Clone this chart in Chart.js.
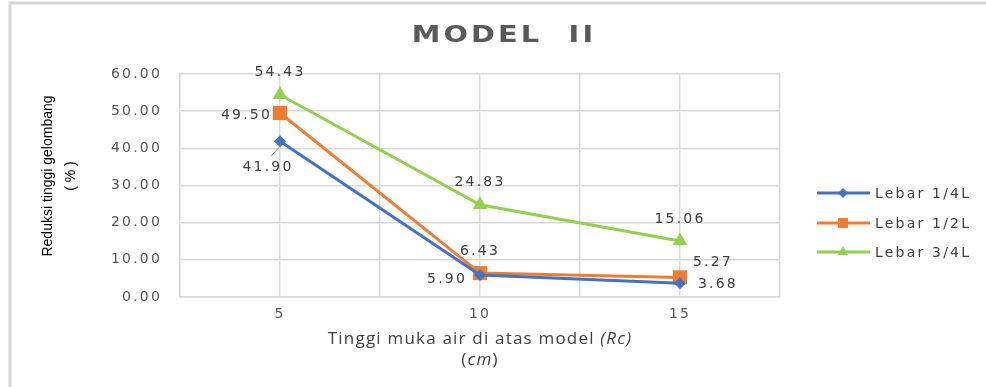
<!DOCTYPE html>
<html>
<head>
<meta charset="utf-8">
<script src="https://cdn.jsdelivr.net/npm/chart.js@4.4.1/dist/chart.umd.min.js"></script>
<style>
  html, body { margin: 0; padding: 0; background: #fff; }
  #wrap { width: 986px; height: 387px; position: relative; }
</style>
</head>
<body>
<div id="wrap"><canvas id="c" width="986" height="387"></canvas></div>
<script>
// Wave height reduction (%) against water level above the model (Rc, cm)
const rcValues = [5, 10, 15];
const lebarQuarter = [41.90, 5.90, 3.68];
const lebarHalf = [49.50, 6.43, 5.27];
const lebarThreeQuarter = [54.43, 24.83, 15.06];
const seriesNames = ['Lebar 1/4L', 'Lebar 1/2L', 'Lebar 3/4L'];
const xTickLabels = ['5', '10', '15'];
const yRange = { min: 0, max: 60, step: 10 };
const chartTitle = 'MODEL  II';

const colors = ['#4472C4', '#ED7D31', '#92D050'];
const markerStyles = ['rectRot', 'rect', 'triangle'];
const markerRadius = [6, 10, 8.5];
const legendMarkerRadius = [5, 7, 6];
// where each value label sits relative to its point
const labelSides = [
  ['below', 'farLeft', 'right'],
  ['left', 'above', 'aboveRight'],
  ['above', 'above', 'above']
];

const FONT = '"DejaVu Sans", Verdana, sans-serif';

function toPoints(vals) {
  return rcValues.map((x, i) => ({ x: x, y: vals[i] }));
}
const seriesValues = [lebarQuarter, lebarHalf, lebarThreeQuarter];

const datasets = seriesValues.map((vals, i) => ({
  label: seriesNames[i],
  data: toPoints(vals),
  borderColor: colors[i],
  backgroundColor: colors[i],
  borderWidth: 3,
  tension: 0,
  pointStyle: markerStyles[i],
  pointRadius: markerRadius[i],
  pointBorderWidth: 0,
  pointBackgroundColor: colors[i]
}));

const framePlugin = {
  id: 'frame',
  beforeDraw(chart) {
    const ctx = chart.ctx;
    ctx.save();
    ctx.fillStyle = '#ffffff';
    ctx.fillRect(0, 0, chart.width, chart.height);
    ctx.strokeStyle = '#d4d4d4';
    ctx.lineWidth = 3;
    ctx.beginPath();
    ctx.moveTo(10, chart.height);
    ctx.lineTo(10, 3);
    ctx.lineTo(chart.width, 3);
    ctx.stroke();
    ctx.restore();
    ctx.letterSpacing = '2.2px';
  },
  afterDraw(chart) {
    chart.ctx.letterSpacing = '0px';
  }
};

const valueLabelPlugin = {
  id: 'valueLabels',
  afterDatasetsDraw(chart) {
    const ctx = chart.ctx;
    ctx.save();
    ctx.font = '14px ' + FONT;
    ctx.letterSpacing = '2.2px';
    ctx.fillStyle = '#404040';
    ctx.textBaseline = 'middle';
    chart.data.datasets.forEach((ds, di) => {
      const meta = chart.getDatasetMeta(di);
      meta.data.forEach((pt, pi) => {
        const txt = ds.data[pi].y.toFixed(2);
        const side = labelSides[di][pi];
        let x = pt.x, y = pt.y;
        if (side === 'above') { ctx.textAlign = 'center'; y -= 22; }
        else if (side === 'below') {
          ctx.textAlign = 'center'; x -= 12; y += 26;
          ctx.save();
          ctx.strokeStyle = '#8c8c8c';
          ctx.lineWidth = 1;
          ctx.beginPath();
          ctx.moveTo(pt.x - 9, pt.y + 15);
          ctx.lineTo(pt.x - 1, pt.y + 6);
          ctx.stroke();
          ctx.restore();
        }
        else if (side === 'left') { ctx.textAlign = 'right'; x -= 8; y += 2; }
        else if (side === 'farLeft') { ctx.textAlign = 'right'; x -= 13; y += 4; }
        else if (side === 'right') { ctx.textAlign = 'left'; x += 18; y += 1; }
        else if (side === 'aboveRight') { ctx.textAlign = 'left'; x += 13; y -= 15; }
        ctx.fillText(txt, x, y);
      });
    });
    ctx.restore();
  }
};

const decorPlugin = {
  id: 'decor',
  afterDraw(chart) {
    const ctx = chart.ctx;
    const area = chart.chartArea;
    ctx.save();

    // chart title, drawn slightly widened
    ctx.fillStyle = '#595959';
    ctx.font = 'bold 23px ' + FONT;
    ctx.letterSpacing = '2.5px';
    ctx.textAlign = 'center';
    ctx.textBaseline = 'middle';
    ctx.save();
    ctx.translate(504, 36);
    ctx.scale(1.25, 1);
    ctx.fillText(chartTitle, 0, 0);
    ctx.restore();

    // vertical axis title
    ctx.fillStyle = '#000000';
    ctx.letterSpacing = '0px';
    ctx.font = '14px "Liberation Sans Narrow", "Liberation Sans", sans-serif';
    ctx.save();
    ctx.translate(48, 176);
    ctx.rotate(-Math.PI / 2);
    ctx.fillText('Reduksi tinggi gelombang', 0, 0);
    ctx.restore();
    ctx.save();
    ctx.translate(71, 176);
    ctx.rotate(-Math.PI / 2);
    ctx.fillText('( % )', 0, 0);
    ctx.restore();

    // horizontal axis title, with italic parts
    const cx = (area.left + area.right) / 2;
    ctx.fillStyle = '#404040';
    ctx.letterSpacing = '1.2px';
    const parts1 = [['Tinggi muka air di atas model ', ''], ['(Rc)', 'italic ']];
    const parts2 = [['(', ''], ['cm', 'italic '], [')', '']];
    function drawParts(parts, y) {
      let total = 0;
      parts.forEach(p => { ctx.font = p[1] + '17px "Open Sans", sans-serif'; total += ctx.measureText(p[0]).width; });
      let x = cx - total / 2;
      ctx.textAlign = 'left';
      parts.forEach(p => {
        ctx.font = p[1] + '17px "Open Sans", sans-serif';
        ctx.fillText(p[0], x, y);
        x += ctx.measureText(p[0]).width;
      });
    }
    drawParts(parts1, 339);
    drawParts(parts2, 360);

    // legend
    ctx.font = '14px ' + FONT;
    ctx.letterSpacing = '2.2px';
    ctx.textAlign = 'left';
    const rows = [193, 223, 252];
    chart.data.datasets.forEach((ds, i) => {
      const y = rows[i];
      ctx.strokeStyle = ds.borderColor;
      ctx.lineWidth = 3;
      ctx.beginPath();
      ctx.moveTo(817, y);
      ctx.lineTo(870, y);
      ctx.stroke();
      ctx.fillStyle = ds.borderColor;
      Chart.helpers.drawPoint(ctx, { pointStyle: ds.pointStyle, radius: legendMarkerRadius[i], rotation: 0, borderWidth: 0 }, 843, y);
      ctx.fillStyle = '#404040';
      ctx.fillText(ds.label, 875, y + 1);
    });
    ctx.restore();
  }
};

new Chart(document.getElementById('c'), {
  type: 'line',
  data: { datasets: datasets },
  options: {
    responsive: false,
    animation: false,
    devicePixelRatio: 1,
    layout: { padding: { top: 74, right: 206, left: 0, bottom: 0 } },
    plugins: { legend: { display: false }, title: { display: false }, tooltip: { enabled: false } },
    scales: {
      x: {
        type: 'linear',
        min: rcValues[0] - 2.5,
        max: rcValues[rcValues.length - 1] + 2.5,
        afterFit(s) { s.height = 90; },
        afterBuildTicks(s) {
          const t = [];
          for (let v = s.min; v <= s.max + 1e-9; v += 2.5) t.push({ value: v });
          s.ticks = t;
        },
        ticks: {
          autoSkip: false,
          maxRotation: 0,
          padding: 9,
          color: '#595959',
          font: { family: FONT, size: 14 },
          callback(v) {
            const i = rcValues.indexOf(v);
            return i >= 0 ? xTickLabels[i] : '';
          }
        },
        grid: { color: '#d9d9d9', lineWidth: 1.5, drawTicks: false },
        border: { color: '#d9d9d9', width: 1.5 }
      },
      y: {
        min: yRange.min,
        max: yRange.max,
        afterFit(s) { s.width = 180; },
        ticks: {
          stepSize: yRange.step,
          padding: 18,
          color: '#595959',
          font: { family: FONT, size: 14 },
          callback(v) { return Number(v).toFixed(2); }
        },
        grid: { color: '#d9d9d9', lineWidth: 1.5, drawTicks: false },
        border: { color: '#d9d9d9', width: 1.5 }
      }
    }
  },
  plugins: [framePlugin, valueLabelPlugin, decorPlugin]
});
</script>
</body>
</html>
